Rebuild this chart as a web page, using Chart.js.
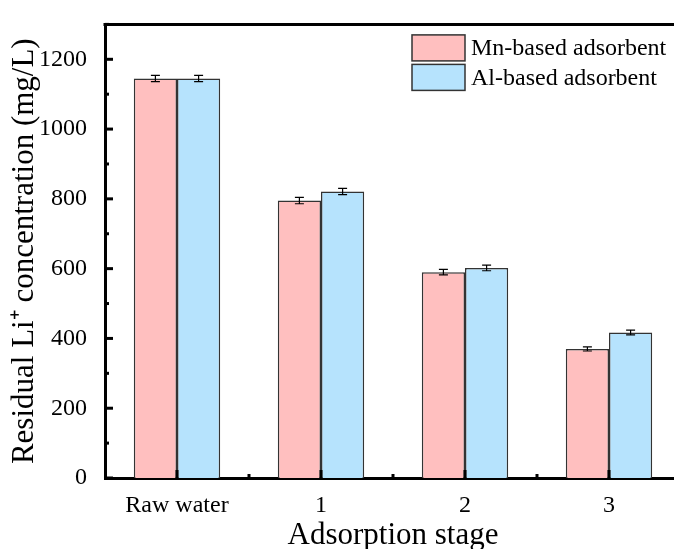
<!DOCTYPE html>
<html>
<head>
<meta charset="utf-8">
<script src="https://cdn.jsdelivr.net/npm/chart.js@4.4.1/dist/chart.umd.min.js"></script>
<style>
html, body { margin: 0; padding: 0; overflow: hidden; background: #fff; }
canvas { display: block; }
</style>
</head>
<body>
<canvas id="li-chart" width="700" height="560"></canvas>
<script>
/**************************************************************
                 RESIDUAL LI+ CONCENTRATION CHART
***************************************************************/
let stageLabels = ["Raw water", "1", "2", "3"]
let mnValues = [1145, 795, 590, 370]
let mnErrors = [9, 9, 8, 6]
let alValues = [1145, 821, 602, 417]
let alErrors = [9, 9, 8, 7]
let seriesNames = ["Mn-based adsorbent", "Al-based adsorbent"]
let seriesColors = ['#ffbfbf', '#b6e3fd']
let serif = "'Liberation Serif', 'Times New Roman', serif"

/*** error bars drawn from the bar elements and the y scale ***/
let errorBarPlugin = {
    id: 'errorBars',
    afterDatasetsDraw(chart) {
        let ctx = chart.ctx
        let yScale = chart.scales.y
        ctx.save()
        ctx.strokeStyle = '#000'
        ctx.lineWidth = 1.2
        chart.data.datasets.forEach((ds, i) => {
            let meta = chart.getDatasetMeta(i)
            meta.data.forEach((bar, j) => {
                let top = yScale.getPixelForValue(ds.data[j] + ds.errors[j])
                let bot = yScale.getPixelForValue(ds.data[j] - ds.errors[j])
                ctx.beginPath()
                ctx.moveTo(bar.x, top); ctx.lineTo(bar.x, bot)
                ctx.moveTo(bar.x - 4.5, top); ctx.lineTo(bar.x + 4.5, top)
                ctx.moveTo(bar.x - 4.5, bot); ctx.lineTo(bar.x + 4.5, bot)
                ctx.stroke()
            })
        })
        ctx.restore()
    }
}

/*** inward ticks, top frame line and legend inside the plot ***/
let framePlugin = {
    id: 'frame',
    afterDraw(chart) {
        let ctx = chart.ctx
        let area = chart.chartArea
        let x = chart.scales.x
        let y = chart.scales.y
        ctx.save()
        ctx.strokeStyle = '#000'
        ctx.lineWidth = 3
        ctx.beginPath()
        ctx.moveTo(area.left - 1.5, area.top); ctx.lineTo(area.right, area.top)
        ctx.stroke()

        for (let v = 0; v <= 1300; v += 100) {
            let py = y.getPixelForValue(v)
            let len = v % 200 === 0 ? 8 : 4
            ctx.beginPath()
            ctx.moveTo(area.left, py); ctx.lineTo(area.left + len, py)
            ctx.stroke()
        }
        for (let k = 0; k < stageLabels.length; k++) {
            let px = x.getPixelForValue(k)
            ctx.beginPath()
            ctx.moveTo(px, area.bottom); ctx.lineTo(px, area.bottom - 8)
            ctx.stroke()
            let mx = x.getPixelForValue(k + 0.5)
            ctx.beginPath()
            ctx.moveTo(mx, area.bottom); ctx.lineTo(mx, area.bottom - 4)
            ctx.stroke()
        }

        // legend
        let boxLeft = area.right - 269
        let boxTop = area.top + 10.5
        ctx.lineWidth = 1.5
        ctx.strokeStyle = '#333'
        ctx.font = "24px " + serif
        ctx.textBaseline = 'middle'
        ctx.textAlign = 'left'
        chart.data.datasets.forEach((ds, i) => {
            let by = boxTop + i * 29.5
            ctx.fillStyle = ds.backgroundColor
            ctx.fillRect(boxLeft, by, 53, 26)
            ctx.strokeRect(boxLeft, by, 53, 26)
            ctx.fillStyle = '#000'
            ctx.fillText(ds.label, boxLeft + 59, by + 14)
        })
        ctx.restore()
    }
}

let liChartCanvas = document.getElementById("li-chart").getContext('2d')
let liChartConfig = {
    type: 'bar',
    data: {
        labels: stageLabels,
        datasets: [{
            label: seriesNames[0],
            data: mnValues,
            errors: mnErrors,
            backgroundColor: seriesColors[0],
            borderColor: '#333',
            borderWidth: 1.5
        }, {
            label: seriesNames[1],
            data: alValues,
            errors: alErrors,
            backgroundColor: seriesColors[1],
            borderColor: '#333',
            borderWidth: 1.5
        }]
    },
    options: {
        responsive: false,
        animation: false,
        layout: { padding: { top: 15, right: 19, left: 0, bottom: 0 } },
        datasets: { bar: { barPercentage: 1, categoryPercentage: 0.6 } },
        plugins: {
            legend: { display: false },
            tooltip: { enabled: false }
        },
        scales: {
            x: {
                grid: { display: false },
                border: { display: true, color: '#000', width: 3 },
                ticks: { color: '#000', font: { family: serif, size: 24 }, padding: 5, maxRotation: 0 },
                title: { display: true, text: 'Adsorption stage', color: '#000', font: { family: serif, size: 31 }, padding: { top: 0, bottom: 6 } },
                afterFit(scale) { scale.height = 82 }
            },
            y: {
                min: 0,
                max: 1300,
                grid: { display: false },
                border: { display: true, color: '#000', width: 3 },
                ticks: {
                    stepSize: 200, includeBounds: false, color: '#000',
                    font: { family: serif, size: 24 }, padding: 10,
                    callback: (v) => String(v)
                },
                title: { display: true, text: 'Residual Li\u207A concentration (mg/L)', color: '#000', font: { family: serif, size: 31 }, padding: { top: 6, bottom: 0 } },
                afterFit(scale) { scale.width = 105 }
            }
        }
    },
    plugins: [errorBarPlugin, framePlugin]
}

let liChart = new Chart(liChartCanvas, liChartConfig)
</script>
</body>
</html>
